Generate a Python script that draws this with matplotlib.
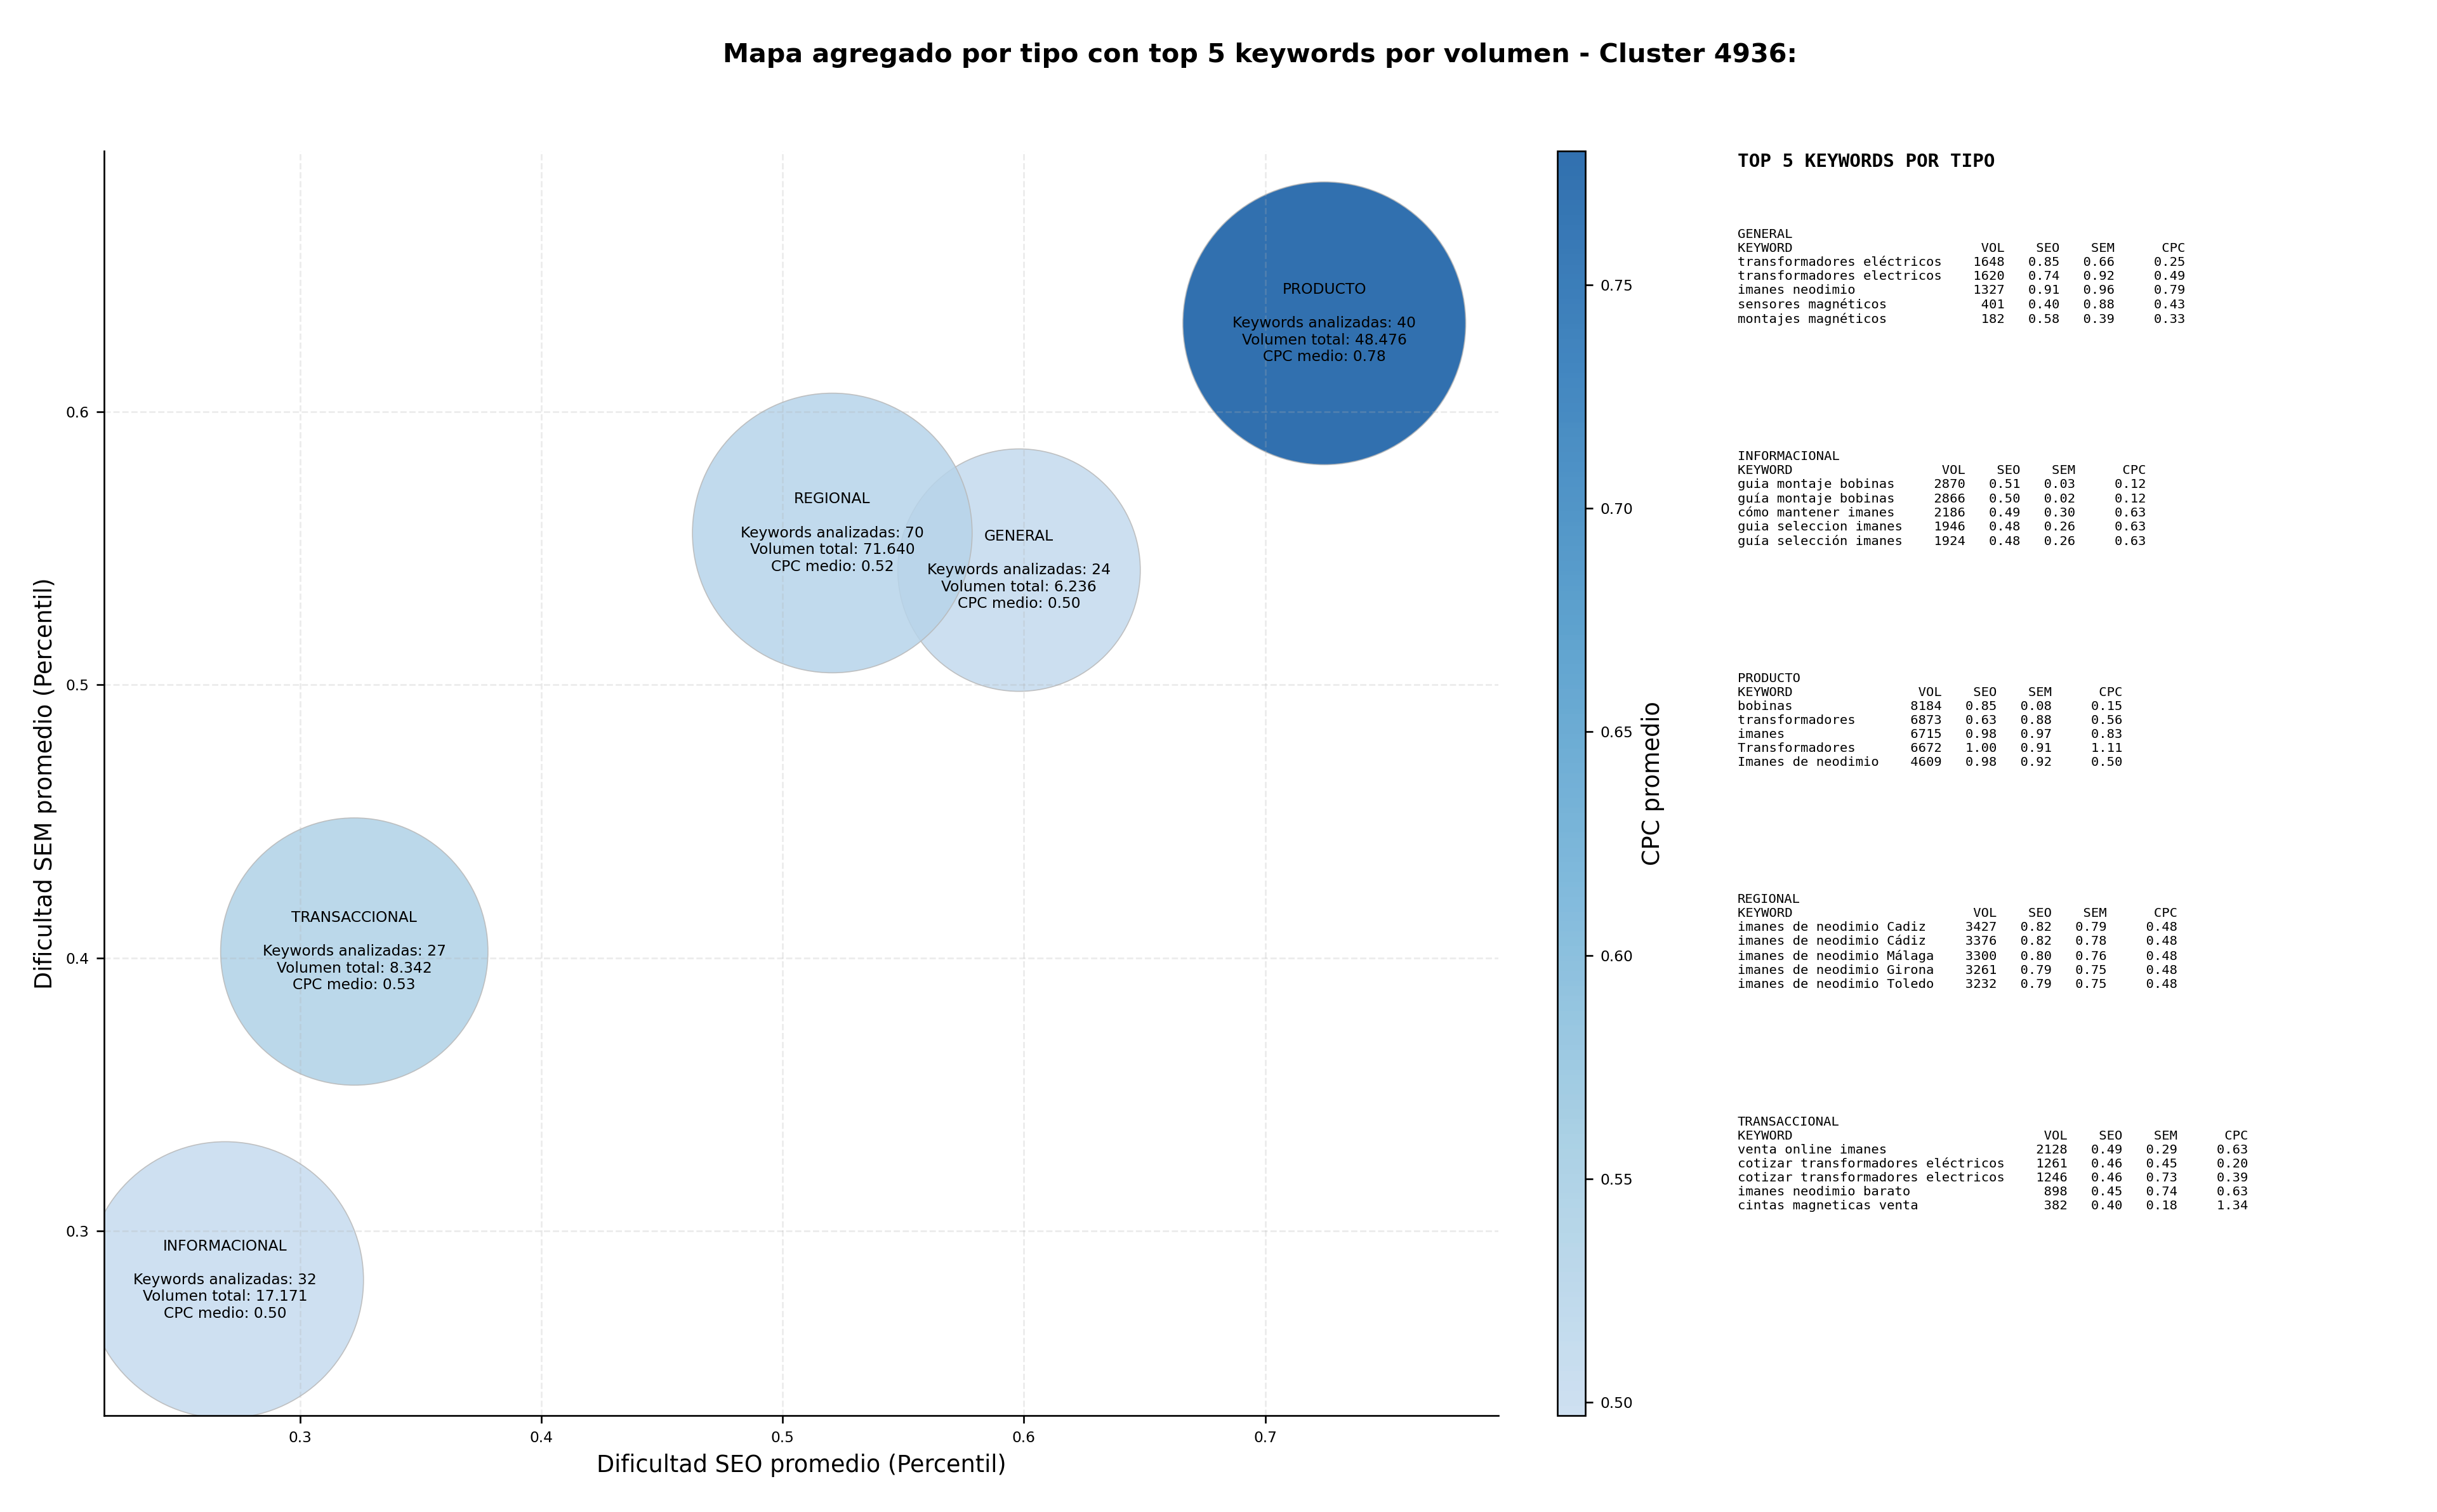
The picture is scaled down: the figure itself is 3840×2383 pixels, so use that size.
import matplotlib
matplotlib.use('Agg')
import matplotlib.pyplot as plt
import numpy as np
from matplotlib.colors import LinearSegmentedColormap

# datos agregados por tipo
tipos = ['GENERAL', 'INFORMACIONAL', 'PRODUCTO', 'REGIONAL', 'TRANSACCIONAL']
seo_medio = [0.598, 0.269, 0.7245, 0.5206, 0.3225]
sem_medio = [0.542, 0.282, 0.6324, 0.5556, 0.4023]
n_keywords = [24, 32, 40, 70, 27]
volumen_total = [6236, 17171, 48476, 71640, 8342]
cpc_medio = [0.502, 0.497, 0.780, 0.520, 0.530]
tamanos = [13140, 17100, 17880, 17480, 15970]

# top 5 keywords por tipo
top_kw = {
    'GENERAL': ['transformadores eléctricos', 'transformadores electricos', 'imanes neodimio',
                'sensores magnéticos', 'montajes magnéticos'],
    'INFORMACIONAL': ['guia montaje bobinas', 'guía montaje bobinas', 'cómo mantener imanes',
                      'guia seleccion imanes', 'guía selección imanes'],
    'PRODUCTO': ['bobinas', 'transformadores', 'imanes', 'Transformadores', 'Imanes de neodimio'],
    'REGIONAL': ['imanes de neodimio Cadiz', 'imanes de neodimio Cádiz', 'imanes de neodimio Málaga',
                 'imanes de neodimio Girona', 'imanes de neodimio Toledo'],
    'TRANSACCIONAL': ['venta online imanes', 'cotizar transformadores eléctricos',
                      'cotizar transformadores electricos', 'imanes neodimio barato',
                      'cintas magneticas venta'],
}
top_vol = {
    'GENERAL': [1648, 1620, 1327, 401, 182],
    'INFORMACIONAL': [2870, 2866, 2186, 1946, 1924],
    'PRODUCTO': [8184, 6873, 6715, 6672, 4609],
    'REGIONAL': [3427, 3376, 3300, 3261, 3232],
    'TRANSACCIONAL': [2128, 1261, 1246, 898, 382],
}
top_seo = {
    'GENERAL': [0.85, 0.74, 0.91, 0.40, 0.58],
    'INFORMACIONAL': [0.51, 0.50, 0.49, 0.48, 0.48],
    'PRODUCTO': [0.85, 0.63, 0.98, 1.00, 0.98],
    'REGIONAL': [0.82, 0.82, 0.80, 0.79, 0.79],
    'TRANSACCIONAL': [0.49, 0.46, 0.46, 0.45, 0.40],
}
top_sem = {
    'GENERAL': [0.66, 0.92, 0.96, 0.88, 0.39],
    'INFORMACIONAL': [0.03, 0.02, 0.30, 0.26, 0.26],
    'PRODUCTO': [0.08, 0.88, 0.97, 0.91, 0.92],
    'REGIONAL': [0.79, 0.78, 0.76, 0.75, 0.75],
    'TRANSACCIONAL': [0.29, 0.45, 0.73, 0.74, 0.18],
}
top_cpc = {
    'GENERAL': [0.25, 0.49, 0.79, 0.43, 0.33],
    'INFORMACIONAL': [0.12, 0.12, 0.63, 0.63, 0.63],
    'PRODUCTO': [0.15, 0.56, 0.83, 1.11, 0.50],
    'REGIONAL': [0.48, 0.48, 0.48, 0.48, 0.48],
    'TRANSACCIONAL': [0.63, 0.20, 0.39, 0.63, 1.34],
}


def fmt_miles(v):
    return f"{v:,}".replace(',', '.')


def tabla(nombre):
    kws = top_kw[nombre]
    w = max(len(k) for k in kws) + 2
    lineas = [nombre, f"{'KEYWORD':<{w}}{'VOL':>6}{'SEO':>7}{'SEM':>7}{'CPC':>9}"]
    for k, v, s, m, c in zip(kws, top_vol[nombre], top_seo[nombre], top_sem[nombre], top_cpc[nombre]):
        lineas.append(f"{k:<{w}}{v:>6}{s:>7.2f}{m:>7.2f}{c:>9.2f}")
    return '\n'.join(lineas)


fig = plt.figure(figsize=(16, 2383 / 240), dpi=240)
ax = fig.add_axes([0.0427, 0.0637, 0.5721, 0.8366])
cax = fig.add_axes([0.639, 0.0637, 0.0115, 0.8366])

cmap = LinearSegmentedColormap.from_list('blues_t', plt.cm.Blues(np.linspace(0.25, 0.85, 256)))
sc = ax.scatter(seo_medio, sem_medio, s=tamanos, c=cpc_medio, cmap=cmap, alpha=0.85,
                edgecolors='#b8b8b8', linewidths=0.5)

for t, x, y, n, v, c in zip(tipos, seo_medio, sem_medio, n_keywords, volumen_total, cpc_medio):
    ax.text(x, y, f"{t}\n\nKeywords analizadas: {n}\nVolumen total: {fmt_miles(v)}\nCPC medio: {c:.2f}",
            ha='center', va='center', fontsize=7)

ax.set_xlim(0.2188, 0.7966)
ax.set_ylim(0.2323, 0.6956)
ax.set_xlabel('Dificultad SEO promedio (Percentil)', fontsize=11)
ax.set_ylabel('Dificultad SEM promedio (Percentil)', fontsize=11)
ax.tick_params(labelsize=7)
ax.grid(True, linestyle='--', alpha=0.25)
ax.spines['top'].set_visible(False)
ax.spines['right'].set_visible(False)

cb = fig.colorbar(sc, cax=cax)
cb.set_label('CPC promedio', fontsize=11)
cb.ax.tick_params(labelsize=7)

fig.suptitle('Mapa agregado por tipo con top 5 keywords por volumen - Cluster 4936:',
             fontsize=12.4, fontweight='bold', x=0.517, y=0.972)

fig.text(0.713, 0.899, 'TOP 5 KEYWORDS POR TIPO', family='monospace', fontsize=8.8,
         fontweight='bold', va='top')
ys = [0.849, 0.702, 0.555, 0.409, 0.262]
for t, y in zip(tipos, ys):
    fig.text(0.713, y, tabla(t), family='monospace', fontsize=6.15, va='top')

fig.savefig('out.png', dpi=240)
